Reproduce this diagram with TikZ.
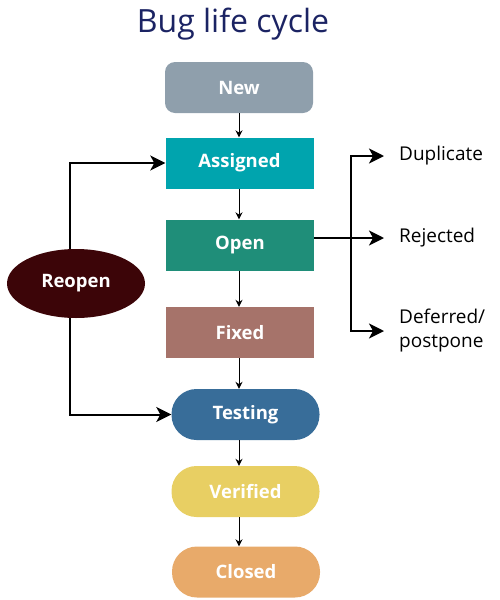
\documentclass[tikz,border=0pt]{standalone}
\usepackage{fontspec}
\setmainfont{Open Sans}
\usetikzlibrary{positioning,arrows.meta,shapes.geometric}

\definecolor{titleblue}{HTML}{1B2363}
\definecolor{newgray}{HTML}{8F9FAC}
\definecolor{assignteal}{HTML}{00A4AE}
\definecolor{opengreen}{HTML}{1F8E79}
\definecolor{fixedrose}{HTML}{A6736A}
\definecolor{testblue}{HTML}{386D99}
\definecolor{verifyellow}{HTML}{E8CF63}
\definecolor{closedorange}{HTML}{E8AA6A}
\definecolor{reopenred}{HTML}{3C0508}

\begin{document}
\begin{tikzpicture}[
  x=1pt, y=-1pt,
  state/.style={fill=#1, text=white, font=\fontsize{18.5}{22}\selectfont\bfseries,
                minimum width=148pt, minimum height=51pt, inner sep=0pt},
  sbox/.style={state=#1},
  rbox/.style={state=#1, rounded corners=10pt},
  pill/.style={state=#1, rounded corners=25pt},
  lbl/.style={anchor=west, font=\fontsize{19}{24}\selectfont, align=left,
              inner ysep=0pt, inner xsep=15pt},
  arr/.style={-{Stealth[length=15pt,width=15pt,inset=4pt]}, line width=2pt},
  tarr/.style={-{Stealth[length=7pt,width=7pt]}, line width=1pt},
]
\useasboundingbox (0,0) rectangle (500,600);

%% ── TITLE ────────────────────────────────────────────────────────────────────
\node[font=\fontsize{32}{38}\selectfont, text=titleblue] (title) at (233,24) {Bug life cycle};

%% ── MAIN STATES ──────────────────────────────────────────────────────────────
\node[rbox=newgray]      (new)      at (239,87.5)  {New};
\node[sbox=assignteal]   (assigned) at (239.5,163) {Assigned};
\node[sbox=opengreen]    (open)     at (240,245)   {Open};
\node[sbox=fixedrose]    (fixed)    at (240,332.5) {Fixed};
\node[pill=testblue]     (testing)  at (245.5,414.5) {Testing};
\node[pill=verifyellow]  (verified) at (245.5,491.5) {Verified};
\node[pill=closedorange] (closed)   at (246,572)   {Closed};

%% ── REOPEN ───────────────────────────────────────────────────────────────────
\node[ellipse, fill=reopenred, text=white, font=\fontsize{18.5}{22}\selectfont\bfseries,
      minimum width=138pt, minimum height=69pt, inner sep=0pt] (reopen) at (76,283.5) {Reopen};

%% ── SIDE OUTCOMES ────────────────────────────────────────────────────────────
\node[lbl] (dup)   at (384,156) {Duplicate};
\node[lbl] (rej)   at (384,238) {Rejected};
\node[lbl] (defer) at (384,331) {Deferred/\\postpone};
\coordinate (split) at (351,238);

%% ── VERTICAL ARROWS ──────────────────────────────────────────────────────────
\draw[tarr] (new.south) -- (assigned.north -| new.south);
\draw[tarr] (assigned.south -| new.south) -- (open.north -| new.south);
\draw[tarr] (open.south -| new.south) -- (fixed.north -| new.south);
\draw[tarr] (fixed.south -| new.south) -- (testing.north -| new.south);
\draw[tarr] (testing.south -| new.south) -- (verified.north -| new.south);
\draw[tarr] (verified.south -| new.south) -- (closed.north -| new.south);

%% ── REOPEN LOOP ──────────────────────────────────────────────────────────────
\draw[arr] ([xshift=-6pt]reopen.north) |- (assigned.west);
\draw[arr] ([xshift=-6pt]reopen.south) |- (testing.west);

%% ── OPEN BRANCHES ────────────────────────────────────────────────────────────
\draw[arr] (open.east |- rej.west) -- (rej.west);
\draw[arr] (split) |- (dup.west);
\draw[arr] (split) |- (defer.west);
\end{tikzpicture}
\end{document}
